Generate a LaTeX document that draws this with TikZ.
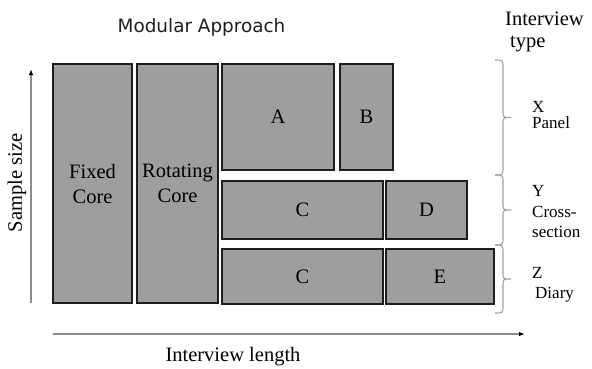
\documentclass[tikz,border=0pt]{standalone}
\usepackage{fontspec}
\setmainfont{Liberation Serif}
\newfontfamily\titlefont{DejaVu Sans}
\usetikzlibrary{arrows.meta}
\definecolor{boxfill}{RGB}{158,158,158}
\definecolor{boxline}{RGB}{30,30,30}
\definecolor{axisgray}{RGB}{140,140,140}
\definecolor{bracegray}{RGB}{160,160,160}
\tikzset{
  module/.style={draw=boxline, fill=boxfill, line width=1.4pt, inner sep=0pt,
    align=center, font=\fontsize{20.5}{25}\selectfont},
  axis/.style={draw=axisgray, line width=1.2pt,
    -{Latex[length=6pt,width=4.5pt,color=black]}},
  typelabel/.style={anchor=base west, inner sep=0pt, font=\fontsize{17}{20}\selectfont},
  headlabel/.style={anchor=base west, inner sep=0pt, font=\fontsize{20.5}{24}\selectfont},
  rbrace/.style={draw=bracegray, line width=1.1pt}
}
% right-pointing curly brace from (#1,#2) to (#1,#3), body at #1
\newcommand\rightbrace[3]{%
  \pgfmathsetmacro\ym{(#2+#3)/2}%
  \draw[rbrace] (#1-8,#2) .. controls (#1,#2) .. (#1,#2+8)
    -- (#1,\ym-7) .. controls (#1,\ym) .. (#1+8,\ym)
    .. controls (#1,\ym) .. (#1,\ym+7)
    -- (#1,#3-8) .. controls (#1,#3) .. (#1-8,#3);}
\begin{document}
\begin{tikzpicture}[x=1pt, y=-1pt]
\useasboundingbox (0,0) rectangle (592,368);

% title
\node[anchor=base, inner sep=0pt, text=black!88, font=\titlefont\fontsize{18.4}{21}\selectfont]
  (title) at (201.5,32) {Modular Approach};

% modules
\node[module, minimum width=79pt, minimum height=239pt] (fixed) at (92.5,183.5) {Fixed\\Core};
\node[module, minimum width=81pt, minimum height=239pt] (rot) at (177.5,183.5) {Rotating\\Core};
\node[module, minimum width=112pt, minimum height=106pt] (A) at (278,117) {A};
\node[module, minimum width=53pt, minimum height=106pt] (B) at (366.5,117) {B};
\node[module, minimum width=161pt, minimum height=58pt] (C1) at (302.5,210) {C};
\node[module, minimum width=81pt, minimum height=58pt] (D) at (426.5,210) {D};
\node[module, minimum width=161pt, minimum height=55pt] (C2) at (302.5,276.5) {C};
\node[module, minimum width=108pt, minimum height=55pt] (E) at (440,276.5) {E};

% axes
\coordinate (ybot) at (31,303);
\coordinate (ytop) at (31,69);
\coordinate (xleft) at (53,334);
\coordinate (xright) at (525,334);
\draw[axis] (ybot) -- (ytop);
\draw[axis] (xleft) -- (xright);
\node[rotate=90, inner sep=0pt, font=\fontsize{20.5}{24}\selectfont] (ylab) at (17,183) {Sample size};
\node[anchor=base, inner sep=0pt, font=\fontsize{20.5}{24}\selectfont] (xlab) at (233,361) {Interview length};

% interview types
\node[headlabel] (ith) at (505,25) {Interview};
\node[headlabel] (itt) at (510,47) {type};
\rightbrace{503}{60}{175}
\rightbrace{503}{175}{245}
\rightbrace{503}{245}{313}
\node[typelabel] (xl) at (532,112) {X};
\node[typelabel] (xp) at (532,128) {Panel};
\node[typelabel] (yl) at (532,196) {Y};
\node[typelabel] (yc) at (532,217) {Cross-};
\node[typelabel] (ys) at (532,237) {section};
\node[typelabel] (zl) at (532,278) {Z};
\node[typelabel] (zd) at (535,298) {Diary};
\end{tikzpicture}
\end{document}
